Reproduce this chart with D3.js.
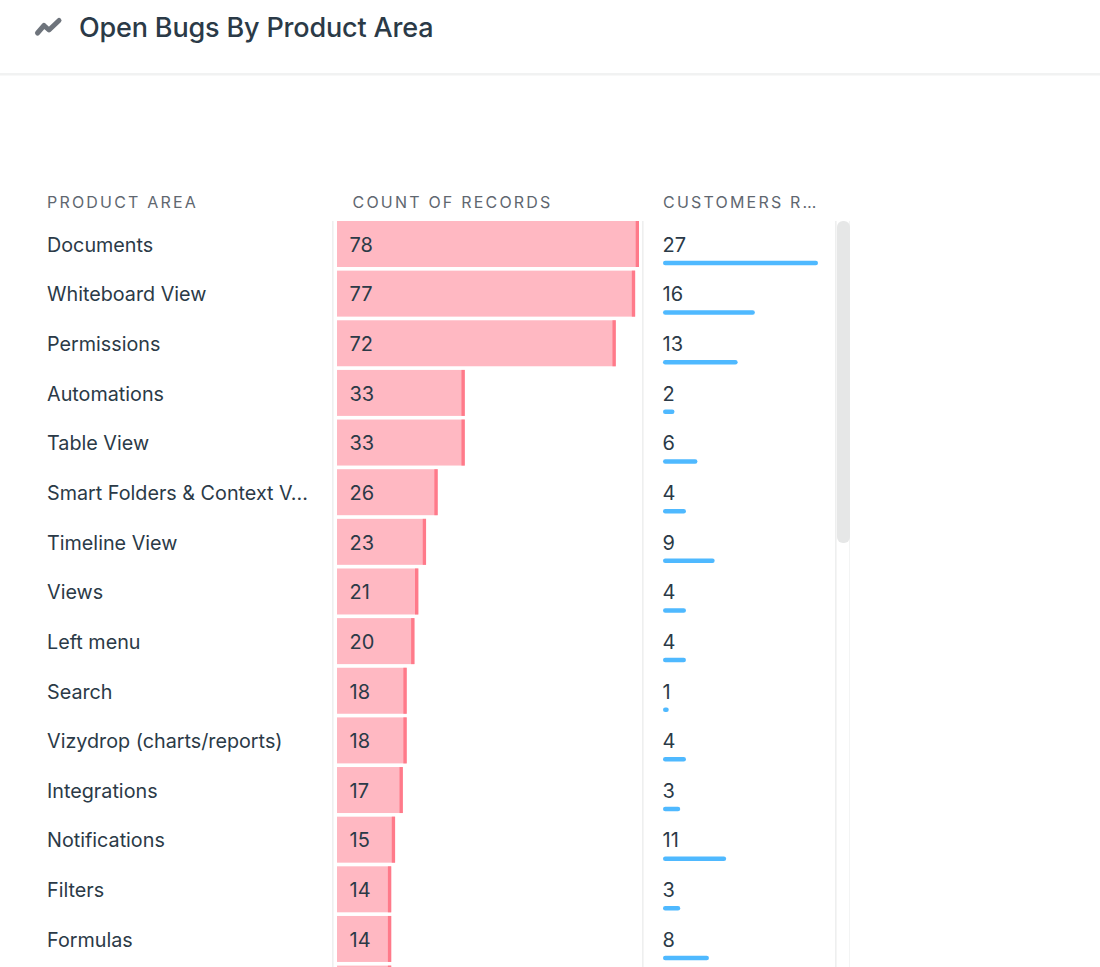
<!DOCTYPE html>
<html>
<head>
<meta charset="utf-8">
<script src="https://cdn.jsdelivr.net/npm/d3@7/dist/d3.min.js"></script>
<style>
html,body{margin:0;padding:0;background:#fff;overflow:hidden}
svg{display:block;font-family:Inter,"Noto Sans",sans-serif}
</style>
</head>
<body>
<svg id="c" width="1100" height="967"></svg>
<script>
const titleText = "Open Bugs By Product Area";
const headers = ["PRODUCT AREA","COUNT OF RECORDS","CUSTOMERS R…"];
const categories = ["Documents","Whiteboard View","Permissions","Automations","Table View","Smart Folders & Context V...","Timeline View","Views","Left menu","Search","Vizydrop (charts/reports)","Integrations","Notifications","Filters","Formulas",""];
const counts = [78,77,72,33,33,26,23,21,20,18,18,17,15,14,14,14];
const customers = [27,16,13,2,6,4,9,4,4,1,4,3,11,3,8,null];

const svg = d3.select("#c");
const ink = "#2b3a47", head = "#5f6770";

// top bar
svg.append("rect").attr("x",0).attr("y",73).attr("width",1100).attr("height",2.5).attr("fill","#f1f2f2");
svg.append("path").attr("d",d3.line()([[37.5,33],[44,25.5],[49,30],[59,20.5]]))
  .attr("fill","none").attr("stroke","#6e747c").attr("stroke-width",5)
  .attr("stroke-linecap","round").attr("stroke-linejoin","round");
svg.append("text").attr("x",79).attr("y",37).attr("font-size",27).attr("font-weight",500)
  .attr("letter-spacing",-0.17).attr("fill",ink).text(titleText);

// scales
const pitch = 49.64, pad = 0.0735;
const y = d3.scaleBand().domain(categories)
  .range([221,221+pitch*(categories.length-pad)]).paddingInner(pad).paddingOuter(0).align(0);
const xCount = d3.scaleLinear().domain([0,78]).range([337,639]);
const xCust = d3.scaleLinear().domain([0,27]).range([663,818]);

// headers
const headX = [47,352.5,663];
svg.selectAll("text.h").data(headers).join("text").attr("class","h")
  .attr("x",(d,i)=>headX[i]).attr("y",207.5).attr("font-size",16)
  .attr("letter-spacing",2.2).attr("fill",head).text(d=>d);

// separators
[333,643,836].forEach(x=>svg.append("rect").attr("x",x-1).attr("y",221).attr("width",1.6).attr("height",746).attr("fill","#eeefef"));

// scrollbar
svg.append("rect").attr("x",849).attr("y",221).attr("width",1).attr("height",746).attr("fill","#f3f4f4");
svg.append("rect").attr("x",837).attr("y",221).attr("width",13).attr("height",322).attr("rx",6).attr("fill","#e6e7e7");

// category labels via axis
const labelAxis = d3.axisLeft(y).tickSize(0).tickPadding(0);
const ag = svg.append("g").attr("transform","translate(47,0.8)").call(labelAxis);
ag.select(".domain").remove();
ag.selectAll("text").attr("text-anchor","start").attr("x",0).attr("dy",null)
  .attr("dominant-baseline","central").attr("font-family",'Inter,"Noto Sans",sans-serif')
  .attr("font-size",19.75).attr("fill",ink);

// count bars
const rows = categories.map((c,i)=>({c,count:counts[i],cust:customers[i]}));
svg.selectAll("rect.bar").data(rows).join("rect").attr("class","bar")
  .attr("x",xCount(0)).attr("y",d=>y(d.c))
  .attr("width",d=>xCount(d.count)-xCount(0)).attr("height",y.bandwidth())
  .attr("fill","#ffb8c2");
svg.selectAll("rect.cap").data(rows).join("rect").attr("class","cap")
  .attr("x",d=>xCount(d.count)-3.3).attr("y",d=>y(d.c))
  .attr("width",3.3).attr("height",y.bandwidth()).attr("fill","#ff7a8a");

// only rows whose numbers are visible in the picture
const custRows = rows.filter(d=>d.cust!==null);
svg.selectAll("text.cv").data(custRows).join("text").attr("class","cv")
  .attr("x",349.5).attr("y",d=>y(d.c)+y.bandwidth()/2+0.8).attr("dominant-baseline","central")
  .attr("font-size",20).attr("fill",ink).text(d=>d.count);
svg.selectAll("text.uv").data(custRows).join("text").attr("class","uv")
  .attr("x",662.5).attr("y",d=>y(d.c)+y.bandwidth()/2+0.8).attr("dominant-baseline","central")
  .attr("font-size",20).attr("fill",ink).text(d=>d.cust);
svg.selectAll("rect.ub").data(custRows).join("rect").attr("class","ub")
  .attr("x",xCust(0)).attr("y",d=>y(d.c)+39.7)
  .attr("width",d=>Math.max(xCust(d.cust)-xCust(0),5)).attr("height",4.5).attr("rx",2.25)
  .attr("fill","#4fb9ff");
</script>
</body>
</html>
